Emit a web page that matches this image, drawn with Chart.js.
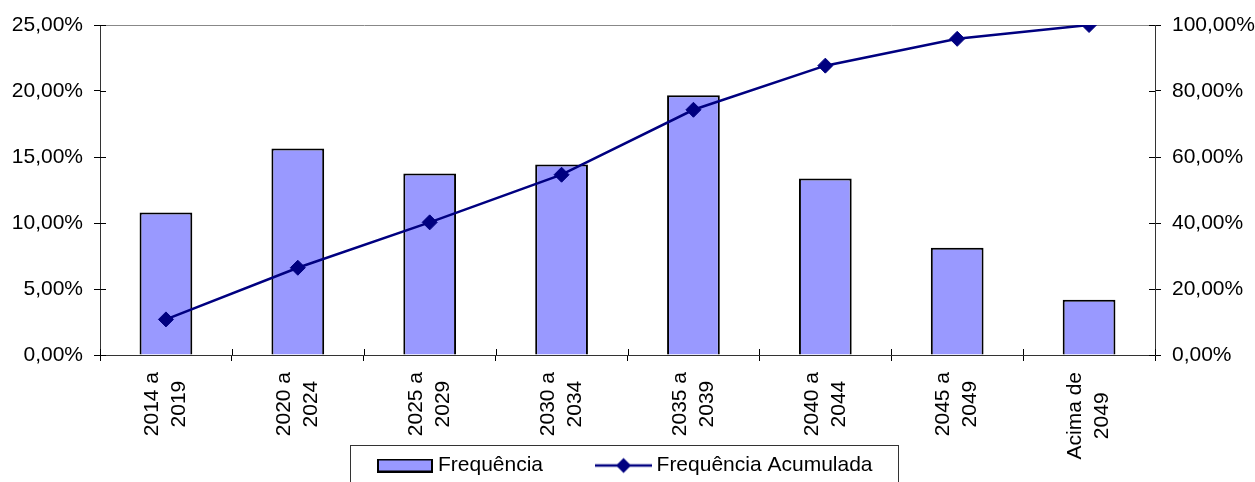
<!DOCTYPE html>
<html>
<head>
<meta charset="utf-8">
<script src="https://cdn.jsdelivr.net/npm/chart.js@4.4.1/dist/chart.umd.min.js"></script>
<style>
  html, body { margin: 0; padding: 0; background: #fff; }
</style>
</head>
<body>
<canvas id="chart" width="1255" height="482"></canvas>
<script>
// DATA
var categories = [["2014 a", "2019"], ["2020 a", "2024"], ["2025 a", "2029"], ["2030 a", "2034"],
                  ["2035 a", "2039"], ["2040 a", "2044"], ["2045 a", "2049"], ["Acima de", "2049"]];
var frequencia = [10.79, 15.65, 13.75, 14.44, 19.68, 13.37, 8.13, 4.18];
var acumulada = [10.79, 26.44, 40.19, 54.63, 74.31, 87.68, 95.81, 100.00];
var leftTicks = [0, 5, 10, 15, 20, 25];
var rightTicks = [0, 20, 40, 60, 80, 100];

var barColor = "#9999FF";
var lineColor = "#000080";
var fontFamily = '"Liberation Sans", Arial, sans-serif';

Chart.defaults.font.family = fontFamily;
Chart.defaults.font.size = 21;
Chart.defaults.color = "#000";

function pct(v) {
  return v.toFixed(2).replace(".", ",") + "%";
}

// legend swatches (box for bars, line + diamond for the line)
var barSwatch = document.createElement("canvas");
barSwatch.width = 56; barSwatch.height = 14;
(function() {
  var c = barSwatch.getContext("2d");
  c.fillStyle = barColor;
  c.fillRect(1, 1, 54, 12);
  c.lineWidth = 2;
  c.strokeStyle = "#000";
  c.strokeRect(1, 1, 54, 12);
})();

var lineSwatch = document.createElement("canvas");
lineSwatch.width = 57; lineSwatch.height = 18;
(function() {
  var c = lineSwatch.getContext("2d");
  c.strokeStyle = lineColor;
  c.lineWidth = 2.5;
  c.beginPath(); c.moveTo(0, 9); c.lineTo(57, 9); c.stroke();
  c.fillStyle = lineColor;
  c.beginPath();
  c.moveTo(28.5 - 7.5, 9); c.lineTo(28.5, 1.5); c.lineTo(28.5 + 7.5, 9); c.lineTo(28.5, 16.5);
  c.closePath(); c.fill();
})();

// rotated two-line category labels, lines centred on each other
var xLabels = {
  id: "xLabels",
  afterDraw: function(chart) {
    var ctx = chart.ctx;
    var xs = chart.scales.x;
    ctx.save();
    ctx.font = "21px " + fontFamily;
    ctx.fillStyle = "#000";
    ctx.textAlign = "center";
    ctx.textBaseline = "middle";
    categories.forEach(function(lines, i) {
      var maxW = 0;
      lines.forEach(function(l) { maxW = Math.max(maxW, ctx.measureText(l).width); });
      var x = xs.getPixelForValue(i);
      var y = xs.top + 17 + maxW / 2;
      ctx.save();
      ctx.translate(x, y);
      ctx.rotate(-Math.PI / 2);
      lines.forEach(function(l, j) {
        ctx.fillText(l, 0, (j - (lines.length - 1) / 2) * 27);
      });
      ctx.restore();
    });
    ctx.restore();
  }
};

// tick marks that cross the axis (inner half)
var innerTicks = {
  id: "innerTicks",
  afterDraw: function(chart) {
    var ctx = chart.ctx, a = chart.chartArea;
    var y = chart.scales.y, y1 = chart.scales.y1, x = chart.scales.x;
    ctx.save();
    ctx.strokeStyle = "#000";
    ctx.lineWidth = 1;
    ctx.beginPath();
    y.ticks.forEach(function(t) {
      var p = Math.round(y.getPixelForValue(t.value)) + 0.5;
      ctx.moveTo(a.left, p); ctx.lineTo(a.left + 6, p);
    });
    y1.ticks.forEach(function(t) {
      var p = Math.round(y1.getPixelForValue(t.value)) + 0.5;
      ctx.moveTo(a.right - 6, p); ctx.lineTo(a.right, p);
    });
    for (var i = 0; i <= categories.length; i++) {
      var px = Math.round(x.getPixelForValue(i - 0.5)) + 0.5;
      ctx.moveTo(px, a.bottom - 6); ctx.lineTo(px, a.bottom);
    }
    ctx.stroke();
    ctx.restore();
  }
};

// frame around the legend
var legendBox = {
  id: "legendBox",
  afterDraw: function(chart) {
    var hb = chart.legend.legendHitBoxes;
    if (!hb || !hb.length) return;
    var ctx = chart.ctx;
    var last = hb[hb.length - 1];
    var left = Math.round(hb[0].left - 32.5) + 0.5;
    var right = Math.round(last.left + last.width + 25) + 0.5;
    var top = Math.round(hb[0].top + hb[0].height / 2 - 21) + 0.5;
    ctx.save();
    ctx.strokeStyle = "#333";
    ctx.lineWidth = 1;
    ctx.strokeRect(left, top, right - left, chart.height - top + 5);
    ctx.restore();
  }
};

var chart = new Chart(document.getElementById("chart"), {
  type: "bar",
  data: {
    labels: categories,
    datasets: [
      {
        type: "bar",
        label: "Frequência",
        data: frequencia,
        yAxisID: "y",
        backgroundColor: barColor,
        borderColor: "#000",
        borderWidth: 2,
        barPercentage: 0.4,
        categoryPercentage: 1.0,
        order: 2
      },
      {
        type: "line",
        label: "Frequência Acumulada",
        data: acumulada,
        yAxisID: "y1",
        borderColor: lineColor,
        backgroundColor: lineColor,
        borderWidth: 2.5,
        tension: 0,
        pointStyle: "rectRot",
        pointRadius: 7.5,
        pointHoverRadius: 7.5,
        pointBorderWidth: 1,
        order: 1
      }
    ]
  },
  options: {
    responsive: false,
    animation: false,
    layout: { padding: { top: 25, left: 0, right: 0, bottom: -4 } },
    plugins: {
      tooltip: { enabled: false },
      legend: {
        position: "bottom",
        onClick: null,
        labels: {
          usePointStyle: true,
          pointStyleWidth: 45,
          boxHeight: 21,
          padding: 58,
          font: { size: 21 },
          color: "#000",
          generateLabels: function(chart) {
            return [
              { text: "Frequência", pointStyle: barSwatch, fillStyle: barColor, strokeStyle: "#000", lineWidth: 0, datasetIndex: 0, hidden: false },
              { text: "Frequência Acumulada", pointStyle: lineSwatch, fillStyle: lineColor, strokeStyle: lineColor, lineWidth: 0, datasetIndex: 1, hidden: false }
            ];
          }
        }
      }
    },
    scales: {
      x: {
        grid: { offset: true, drawOnChartArea: false, tickLength: 6, color: "#000" },
        border: { color: "#333" },
        ticks: { display: false },
        afterFit: function(s) { s.height = 42; }
      },
      y: {
        position: "left",
        min: 0,
        max: 25,
        afterBuildTicks: function(s) { s.ticks = leftTicks.map(function(v) { return { value: v }; }); },
        ticks: { padding: 11, callback: function(v) { return pct(v); } },
        grid: {
          tickLength: 6,
          tickColor: "#000",
          color: function(c) { return c.tick && c.tick.value === 25 ? "#888" : "rgba(0,0,0,0)"; }
        },
        border: { color: "#333" },
        afterFit: function(s) { s.width = 100; }
      },
      y1: {
        position: "right",
        min: 0,
        max: 100,
        afterBuildTicks: function(s) { s.ticks = rightTicks.map(function(v) { return { value: v }; }); },
        ticks: { padding: 11, callback: function(v) { return pct(v); } },
        grid: { drawOnChartArea: false, tickLength: 6, tickColor: "#000", color: "#000" },
        border: { color: "#333" },
        afterFit: function(s) { s.width = 100; }
      }
    }
  },
  plugins: [xLabels, innerTicks, legendBox]
});
</script>
</body>
</html>
